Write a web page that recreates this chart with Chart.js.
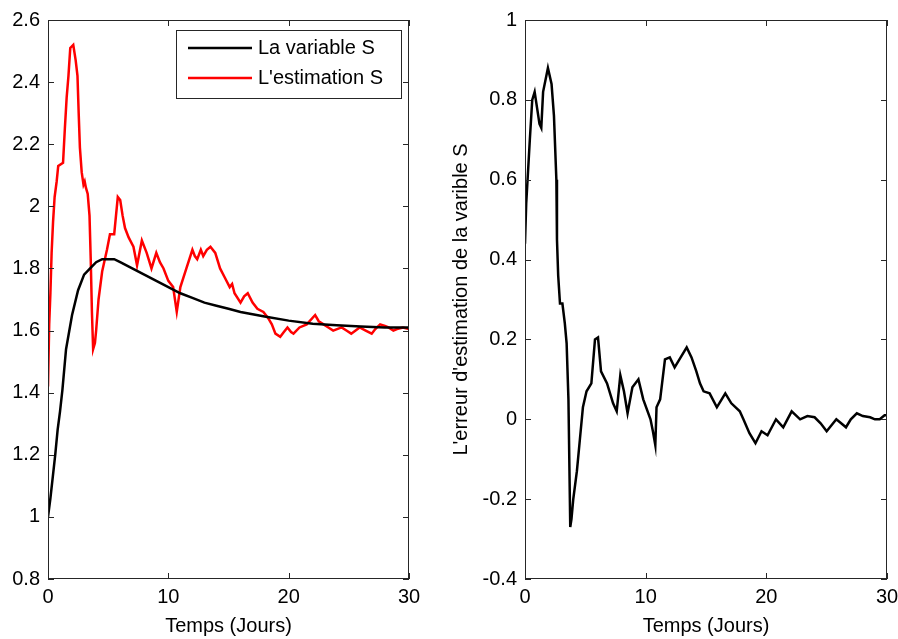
<!DOCTYPE html>
<html>
<head>
<meta charset="utf-8">
<script src="https://cdn.jsdelivr.net/npm/chart.js@4.4.1/dist/chart.umd.min.js"></script>
<style>
  body { margin: 0; background: #fff; }
  #wrap { position: relative; width: 898px; height: 639px; }
  .panel { position: absolute; top: 0; width: 449px; height: 639px; }
</style>
</head>
<body>
<div id="wrap">
  <div class="panel" style="left:0"><canvas id="est"></canvas></div>
  <div class="panel" style="left:449px"><canvas id="err"></canvas></div>
</div>
<script>
// La variable S (black)
var tS = [0, 0.2, 0.4, 0.6, 0.8, 1.0, 1.2, 1.5, 2.0, 2.5, 3.0, 3.5, 4.0, 4.5, 5.0, 5.5, 6, 7, 8, 9, 10, 11, 12, 13, 14, 15, 16, 18, 20, 22, 24, 26, 28, 30];
var vS = [1.0, 1.06, 1.13, 1.2, 1.28, 1.34, 1.41, 1.54, 1.65, 1.73, 1.78, 1.80, 1.82, 1.83, 1.83, 1.83, 1.82, 1.80, 1.78, 1.76, 1.74, 1.72, 1.705, 1.69, 1.68, 1.67, 1.66, 1.645, 1.632, 1.622, 1.617, 1.613, 1.61, 1.61];

// L'estimation S (red)
var tEst = [0, 0.1, 0.2, 0.3, 0.42, 0.55, 0.72, 0.85, 1.25, 1.4, 1.55, 1.7, 1.85, 2.1, 2.3, 2.45, 2.55, 2.65, 2.8, 2.95, 3.05, 3.15, 3.3, 3.45, 3.55, 3.65, 3.75, 3.9, 4.0, 4.2, 4.5, 4.9, 5.15, 5.5, 5.8, 6.0, 6.2, 6.4, 6.7, 7.1, 7.4, 7.8, 8.2, 8.6, 9.0, 9.3, 9.6, 10.0, 10.4, 10.7, 11.0, 11.5, 12.0, 12.2, 12.4, 12.7, 12.9, 13.2, 13.5, 13.9, 14.3, 14.7, 15.1, 15.3, 15.5, 16.0, 16.3, 16.6, 17.0, 17.4, 17.9, 18.3, 18.6, 18.9, 19.3, 19.6, 19.9, 20.2, 20.4, 20.9, 21.5, 22.2, 22.5, 22.9, 23.3, 23.7, 24.4, 24.8, 25.2, 25.9, 26.4, 26.9, 27.2, 27.6, 28.0, 28.3, 28.7, 29.0, 29.5, 30];
var vEst = [1.42, 1.62, 1.72, 1.85, 1.95, 2.03, 2.08, 2.13, 2.14, 2.25, 2.35, 2.42, 2.51, 2.52, 2.47, 2.42, 2.30, 2.19, 2.11, 2.07, 2.08, 2.06, 2.04, 1.97, 1.83, 1.66, 1.54, 1.56, 1.60, 1.70, 1.79, 1.86, 1.91, 1.91, 2.03, 2.02, 1.97, 1.93, 1.90, 1.87, 1.81, 1.89, 1.85, 1.80, 1.85, 1.82, 1.80, 1.76, 1.74, 1.66, 1.74, 1.80, 1.86, 1.84, 1.83, 1.86, 1.84, 1.86, 1.87, 1.85, 1.80, 1.77, 1.74, 1.75, 1.72, 1.69, 1.71, 1.72, 1.69, 1.67, 1.66, 1.64, 1.62, 1.59, 1.58, 1.595, 1.61, 1.595, 1.59, 1.61, 1.62, 1.65, 1.63, 1.62, 1.61, 1.60, 1.61, 1.6, 1.59, 1.61, 1.60, 1.59, 1.605, 1.62, 1.615, 1.61, 1.60, 1.605, 1.61, 1.605];

// L'erreur d'estimation (right panel)
var tErr = [0, 0.1, 0.25, 0.4, 0.6, 0.8, 1.0, 1.2, 1.35, 1.5, 1.9, 2.2, 2.4, 2.6, 2.65, 2.75, 2.9, 3.1, 3.3, 3.45, 3.6, 3.75, 3.85, 4.0, 4.3, 4.55, 4.8, 5.1, 5.5, 5.8, 6.05, 6.3, 6.8, 7.3, 7.6, 7.9, 8.2, 8.5, 8.9, 9.4, 9.8, 10.4, 10.6, 10.8, 10.9, 11.2, 11.6, 12.0, 12.4, 12.8, 13.4, 13.8, 14.2, 14.5, 14.8, 15.3, 15.9, 16.3, 16.6, 17.1, 17.8, 18.1, 18.6, 19.1, 19.6, 20.1, 20.8, 21.4, 22.1, 22.8, 23.4, 24.0, 24.5, 25.0, 25.8, 26.2, 26.6, 27.0, 27.5, 28.0, 28.6, 29.0, 29.4, 29.8, 30];
var vErr = [0.44, 0.54, 0.62, 0.70, 0.80, 0.82, 0.78, 0.74, 0.73, 0.82, 0.88, 0.84, 0.76, 0.60, 0.45, 0.36, 0.29, 0.29, 0.24, 0.19, 0.05, -0.27, -0.25, -0.20, -0.13, -0.05, 0.03, 0.07, 0.09, 0.20, 0.205, 0.12, 0.09, 0.04, 0.02, 0.11, 0.07, 0.015, 0.08, 0.10, 0.05, 0.0, -0.03, -0.065, 0.03, 0.05, 0.15, 0.155, 0.13, 0.15, 0.18, 0.155, 0.12, 0.09, 0.07, 0.065, 0.03, 0.05, 0.065, 0.04, 0.02, 0.0, -0.035, -0.06, -0.03, -0.04, 0.0, -0.02, 0.02, 0.0, 0.008, 0.005, -0.01, -0.03, 0.0, -0.01, -0.02, 0.0, 0.015, 0.008, 0.005, 0.0, 0.0, 0.01, 0.01];

var xTicks = [0, 10, 20, 30];

function pts(t, v) {
  return t.map(function (x, i) { return { x: x, y: v[i] }; });
}

var FONT = { family: "'Liberation Sans', Arial, sans-serif", size: 20 };
var AXIS = '#262626';

// box around the axes with ticks pointing inward (matlab style)
var boxPlugin = {
  id: 'box',
  afterDatasetsDraw: function (chart) {
    var ctx = chart.ctx, a = chart.chartArea;
    var x = chart.scales.x, y = chart.scales.y;
    ctx.save();
    ctx.strokeStyle = AXIS;
    ctx.lineWidth = 1;
    ctx.strokeRect(Math.round(a.left) + 0.5, Math.round(a.top) + 0.5,
      Math.round(a.width) - 1, Math.round(a.height) - 1);
    ctx.beginPath();
    x.ticks.forEach(function (t) {
      var px = Math.round(x.getPixelForValue(t.value)) + 0.5;
      ctx.moveTo(px, a.bottom); ctx.lineTo(px, a.bottom - 6);
      ctx.moveTo(px, a.top); ctx.lineTo(px, a.top + 6);
    });
    y.ticks.forEach(function (t) {
      var py = Math.round(y.getPixelForValue(t.value)) + 0.5;
      ctx.moveTo(a.left, py); ctx.lineTo(a.left + 6, py);
      ctx.moveTo(a.right, py); ctx.lineTo(a.right - 6, py);
    });
    ctx.stroke();
    ctx.restore();
  }
};

// legend box in the upper right corner of the left panel
var legendBox = {
  id: 'legendBox',
  afterDraw: function (chart) {
    var ctx = chart.ctx, a = chart.chartArea;
    var w = 225, h = 68;
    var bx = a.right - 8 - w, by = a.top + 10;
    ctx.save();
    ctx.fillStyle = '#fff';
    ctx.fillRect(bx, by, w, h);
    ctx.strokeStyle = AXIS;
    ctx.lineWidth = 1;
    ctx.strokeRect(Math.round(bx) + 0.5, Math.round(by) + 0.5, w, h);
    ctx.font = FONT.size + 'px ' + FONT.family;
    ctx.textBaseline = 'middle';
    chart.data.datasets.forEach(function (ds, i) {
      var ry = by + 18 + i * 30;
      ctx.strokeStyle = ds.borderColor;
      ctx.lineWidth = 2.5;
      ctx.beginPath();
      ctx.moveTo(bx + 12, ry); ctx.lineTo(bx + 76, ry);
      ctx.stroke();
      ctx.fillStyle = '#000';
      ctx.fillText(ds.label, bx + 82, ry);
    });
    ctx.restore();
  }
};

function fmt(v) { return String(+v.toFixed(1)); }

function xScale() {
  return {
    type: 'linear', min: 0, max: 30,
    afterBuildTicks: function (s) { s.ticks = xTicks.map(function (v) { return { value: v }; }); },
    afterFit: function (s) { s.height = 60; s.paddingLeft = 0; s.paddingRight = 0; },
    grid: { drawOnChartArea: false, drawTicks: false },
    border: { display: false },
    ticks: { font: FONT, color: '#000', padding: 6, maxRotation: 0, callback: fmt },
    title: { display: true, text: 'Temps (Jours)', font: FONT, color: '#000', padding: { top: 2, bottom: 1 } }
  };
}

var estChart = new Chart(document.getElementById('est').getContext('2d'), {
  type: 'line',
  data: {
    datasets: [
      { label: 'La variable S', data: pts(tS, vS), borderColor: '#000', borderWidth: 2.5, pointRadius: 0 },
      { label: "L'estimation S", data: pts(tEst, vEst), borderColor: '#ff0000', borderWidth: 2.5, pointRadius: 0 }
    ]
  },
  options: {
    responsive: true, maintainAspectRatio: false, animation: false,
    layout: { padding: { top: 20, right: 40, bottom: 0, left: 0 } },
    plugins: { legend: { display: false }, tooltip: { enabled: false } },
    scales: {
      x: xScale(),
      y: {
        type: 'linear', min: 0.8, max: 2.6,
        ticks: { stepSize: 0.2, font: FONT, color: '#000', padding: 8, callback: fmt },
        afterFit: function (s) { s.width = 48; },
        grid: { drawOnChartArea: false, drawTicks: false },
        border: { display: false }
      }
    }
  },
  plugins: [boxPlugin, legendBox]
});

var errChart = new Chart(document.getElementById('err').getContext('2d'), {
  type: 'line',
  data: {
    datasets: [
      { label: "L'erreur d'estimation de la varible S", data: pts(tErr, vErr), borderColor: '#000', borderWidth: 2.5, pointRadius: 0 }
    ]
  },
  options: {
    responsive: true, maintainAspectRatio: false, animation: false,
    layout: { padding: { top: 19, right: 11, bottom: 0, left: 0 } },
    plugins: { legend: { display: false }, tooltip: { enabled: false } },
    scales: {
      x: xScale(),
      y: {
        type: 'linear', min: -0.4, max: 1,
        ticks: { stepSize: 0.2, font: FONT, color: '#000', padding: 8, callback: fmt },
        afterFit: function (s) { s.width = 76; },
        grid: { drawOnChartArea: false, drawTicks: false },
        border: { display: false },
        title: { display: true, text: "L'erreur d'estimation de la varible S", font: FONT, color: '#000', padding: { top: 0, bottom: 0 } }
      }
    }
  },
  plugins: [boxPlugin]
});
</script>
</body>
</html>
